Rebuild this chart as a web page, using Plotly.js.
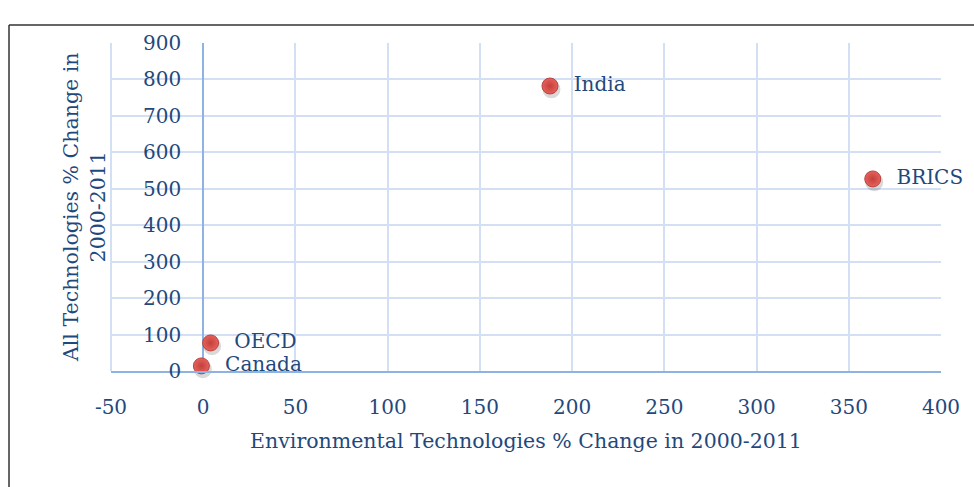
<!DOCTYPE html>
<html>
<head>
<meta charset="utf-8">
<script src="https://cdn.plot.ly/plotly-3.0.1.min.js"></script>
<style>html,body{margin:0;padding:0;background:#fff;}#chart{width:974px;height:487px;}</style>
</head>
<body>
<div id="chart"></div>
<script>
const regions = ["India", "BRICS", "OECD", "Canada"];
const envChange = [188, 363, 4, -1];
const allChange = [782, 527, 77, 14];
const xTicks = [-50, 0, 50, 100, 150, 200, 250, 300, 350, 400];
const yTicks = [0, 100, 200, 300, 400, 500, 600, 700, 800, 900];
const xTitle = "Environmental Technologies % Change in 2000-2011";
const yTitle = "All Technologies % Change in<br>2000-2011";

const textColor = "#1F497D";
const fontFam = "'DejaVu Serif', serif";
const FS = 20;

const L = 111, R = 33, T = 43, B = 116, W = 974, H = 487;
const pw = W - L - R, ph = H - T - B;
const px2x = p => (p - L) / pw;
const px2y = p => (H - B - p) / ph;

const shadow = {
  x: envChange.map(v => v + 0.8), y: allChange.map(v => v - 9),
  mode: "markers", type: "scatter", hoverinfo: "skip", cliponaxis: false,
  marker: {size: 18, color: "rgba(0,0,0,0.15)"}
};
const pts = {
  x: envChange, y: allChange, text: regions.map(r => "\u00a0\u00a0" + r),
  mode: "markers+text", type: "scatter", textposition: "middle right", cliponaxis: false,
  textfont: {family: fontFam, size: FS, color: textColor},
  marker: {size: 16, color: "#E8615C", line: {color: "#B8433F", width: 1},
    gradient: {type: "radial", color: "#C2403B"}}
};

const layout = {
  width: W, height: H,
  margin: {l: L, r: R, t: T, b: B},
  paper_bgcolor: "#fff", plot_bgcolor: "#fff",
  showlegend: false,
  font: {family: fontFam, size: FS, color: textColor},
  xaxis: {
    range: [-50, 400], tickvals: xTicks, ticktext: xTicks.map(String),
    showgrid: true, gridcolor: "#D3DFF2", gridwidth: 2,
    zeroline: true, zerolinecolor: "#8DB3E2", zerolinewidth: 2,
    showline: true, linecolor: "#8DB3E2", linewidth: 2, mirror: false,
    ticks: "", ticklabelstandoff: 17,
    tickfont: {family: fontFam, size: FS, color: textColor},
    title: {text: xTitle, font: {family: fontFam, size: FS + 0.5, color: textColor}, standoff: 16}
  },
  yaxis: {
    range: [0, 900], tickvals: yTicks, ticktext: yTicks.map(String),
    showgrid: true, gridcolor: "#D3DFF2", gridwidth: 2,
    zeroline: true, zerolinecolor: "#8DB3E2", zerolinewidth: 2,
    anchor: "free", position: (0 - (-50)) / 450, showline: false,
    ticks: "", ticklabelstandoff: 22,
    tickfont: {family: fontFam, size: FS, color: textColor}
  },
  shapes: [
    {type: "line", xref: "paper", yref: "paper", x0: 0, x1: 0, y0: 0, y1: 1, line: {color: "#D3DFF2", width: 2}, layer: "below"},
    {type: "line", xref: "paper", yref: "paper", x0: px2x(9), x1: px2x(990), y0: px2y(25), y1: px2y(25), line: {color: "#333", width: 1.5}},
    {type: "line", xref: "paper", yref: "paper", x0: px2x(9), x1: px2x(9), y0: px2y(25), y1: px2y(500), line: {color: "#333", width: 1.5}}
  ],
  annotations: [
    {xref: "paper", yref: "paper", x: px2x(84), y: px2y(208), text: yTitle, textangle: -90,
     showarrow: false, font: {family: fontFam, size: FS + 0.5, color: textColor}, xanchor: "center", yanchor: "middle"}
  ]
};

Plotly.newPlot("chart", [shadow, pts], layout, {displayModeBar: false, staticPlot: true});
</script>
</body>
</html>
